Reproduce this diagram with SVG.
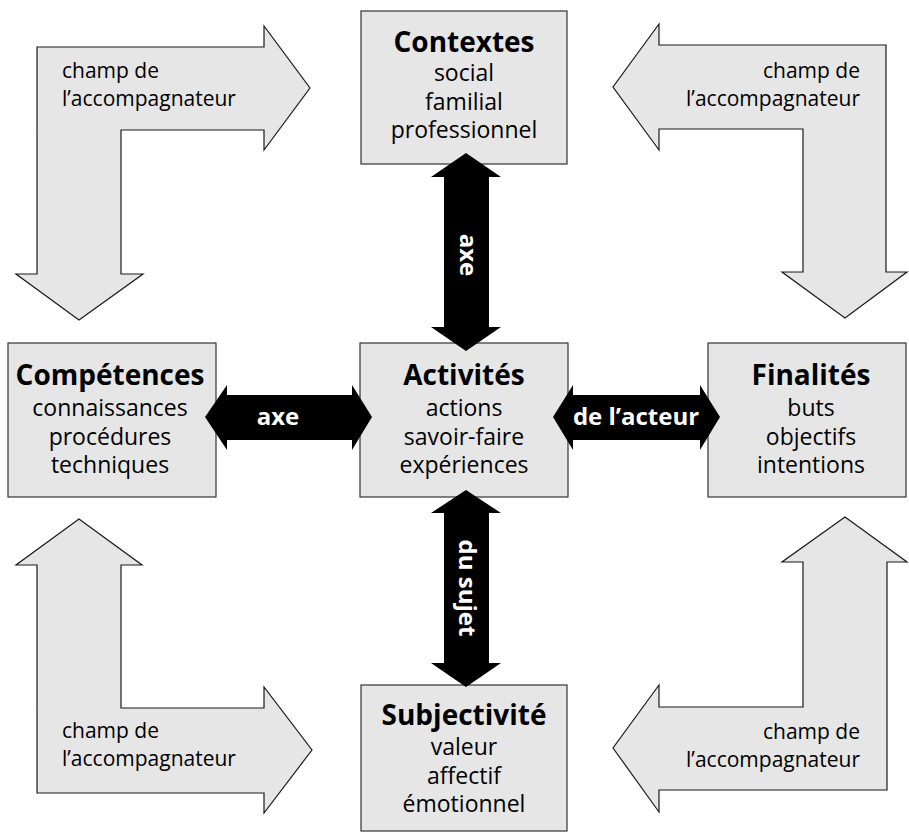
<svg xmlns="http://www.w3.org/2000/svg" width="909" height="832" viewBox="0 0 909 832">
  <style>
    .box { fill: #e6e6e6; stroke: #333333; stroke-width: 1.2; }
    .field { fill: #e6e6e6; stroke: #1a1a1a; stroke-width: 1.2; stroke-linejoin: miter; }
    .axis { fill: #000000; stroke: none; }
    .title { font-family: "Open Sans", "Liberation Sans", sans-serif; font-weight: bold; font-size: 28px; fill: #000000; text-anchor: middle; }
    .item { font-family: "Open Sans", "Liberation Sans", sans-serif; font-size: 23px; fill: #000000; text-anchor: middle; }
    .note { font-family: "Open Sans", "Liberation Sans", sans-serif; font-size: 21px; fill: #000000; }
    .axislabel { font-family: "Open Sans", "Liberation Sans", sans-serif; font-weight: bold; font-size: 24px; fill: #ffffff; text-anchor: middle; }
  </style>

  <rect width="909" height="832" fill="#ffffff"/>

  <!-- L-shaped "field" arrows in the four corners -->
  <g id="field-top-left">
    <path class="field" d="M37,47 H264 V26 L310,88 L264,150 V130 H121 V274 H143 L79,320 L16,274 H37 Z"/>
    <text class="note" x="62" y="78">champ de</text>
    <text class="note" x="62" y="106">l’accompagnateur</text>
  </g>
  <g id="field-top-right">
    <path class="field" d="M886,45 H659 V24 L613,87 L659,150 V129 H803 V272 H782 L845,318 L907,272 H886 Z"/>
    <text class="note" x="860" y="78" text-anchor="end">champ de</text>
    <text class="note" x="860" y="106" text-anchor="end">l’accompagnateur</text>
  </g>
  <g id="field-bottom-left">
    <path class="field" d="M37,793 V565 H16 L79,519 L142,565 H121 V708 H264 V687 L312,750 L264,813 V793 Z"/>
    <text class="note" x="62" y="738">champ de</text>
    <text class="note" x="62" y="766">l’accompagnateur</text>
  </g>
  <g id="field-bottom-right">
    <path class="field" d="M887,790 V562 H907 L845,517 L782,562 H803 V707 H659 V685 L613,748 L659,812 V790 Z"/>
    <text class="note" x="860" y="739" text-anchor="end">champ de</text>
    <text class="note" x="860" y="767" text-anchor="end">l’accompagnateur</text>
  </g>

  <!-- Concept boxes -->
  <g id="node-contextes">
    <rect class="box" x="361" y="11" width="206" height="153"/>
    <text class="title" x="464" y="52">Contextes</text>
    <text class="item" x="464" y="81">social</text>
    <text class="item" x="464" y="110">familial</text>
    <text class="item" x="464" y="138">professionnel</text>
  </g>
  <g id="node-competences">
    <rect class="box" x="8" y="343" width="208" height="154"/>
    <text class="title" x="110" y="385">Compétences</text>
    <text class="item" x="110" y="416">connaissances</text>
    <text class="item" x="110" y="445">procédures</text>
    <text class="item" x="110" y="473">techniques</text>
  </g>
  <g id="node-activites">
    <rect class="box" x="360" y="343" width="208" height="154"/>
    <text class="title" x="464" y="385">Activités</text>
    <text class="item" x="464" y="416">actions</text>
    <text class="item" x="464" y="445">savoir-faire</text>
    <text class="item" x="464" y="473">expériences</text>
  </g>
  <g id="node-finalites">
    <rect class="box" x="708" y="343" width="198" height="154"/>
    <text class="title" x="811" y="385">Finalités</text>
    <text class="item" x="811" y="416">buts</text>
    <text class="item" x="811" y="445">objectifs</text>
    <text class="item" x="811" y="473">intentions</text>
  </g>
  <g id="node-subjectivite">
    <rect class="box" x="361" y="685" width="206" height="146"/>
    <text class="title" x="464" y="725">Subjectivité</text>
    <text class="item" x="464" y="755">valeur</text>
    <text class="item" x="464" y="784">affectif</text>
    <text class="item" x="464" y="812">émotionnel</text>
  </g>

  <!-- Double-headed axis connectors -->
  <g id="connectors">
    <path class="axis" d="M466,153 L501,177 H489 V327 H501 L466,351 L431,327 H444 V177 H431 Z"/>
    <path class="axis" d="M466,490 L501,513 H489 V663 H501 L466,687 L431,663 H444 V513 H431 Z"/>
    <path class="axis" d="M205,417 L227,385 V395 H352 V385 L372,417 L352,450 V440 H227 V450 Z"/>
    <path class="axis" d="M553,417 L573,385 V395 H700 V385 L720,417 L700,450 V440 H573 V450 Z"/>
    <text class="axislabel" transform="translate(467,255) rotate(90)" x="0" y="7">axe</text>
    <text class="axislabel" transform="translate(467,588) rotate(90)" x="0" y="8">du sujet</text>
    <text class="axislabel" x="278" y="425">axe</text>
    <text class="axislabel" x="636" y="425">de l’acteur</text>
  </g>
</svg>
